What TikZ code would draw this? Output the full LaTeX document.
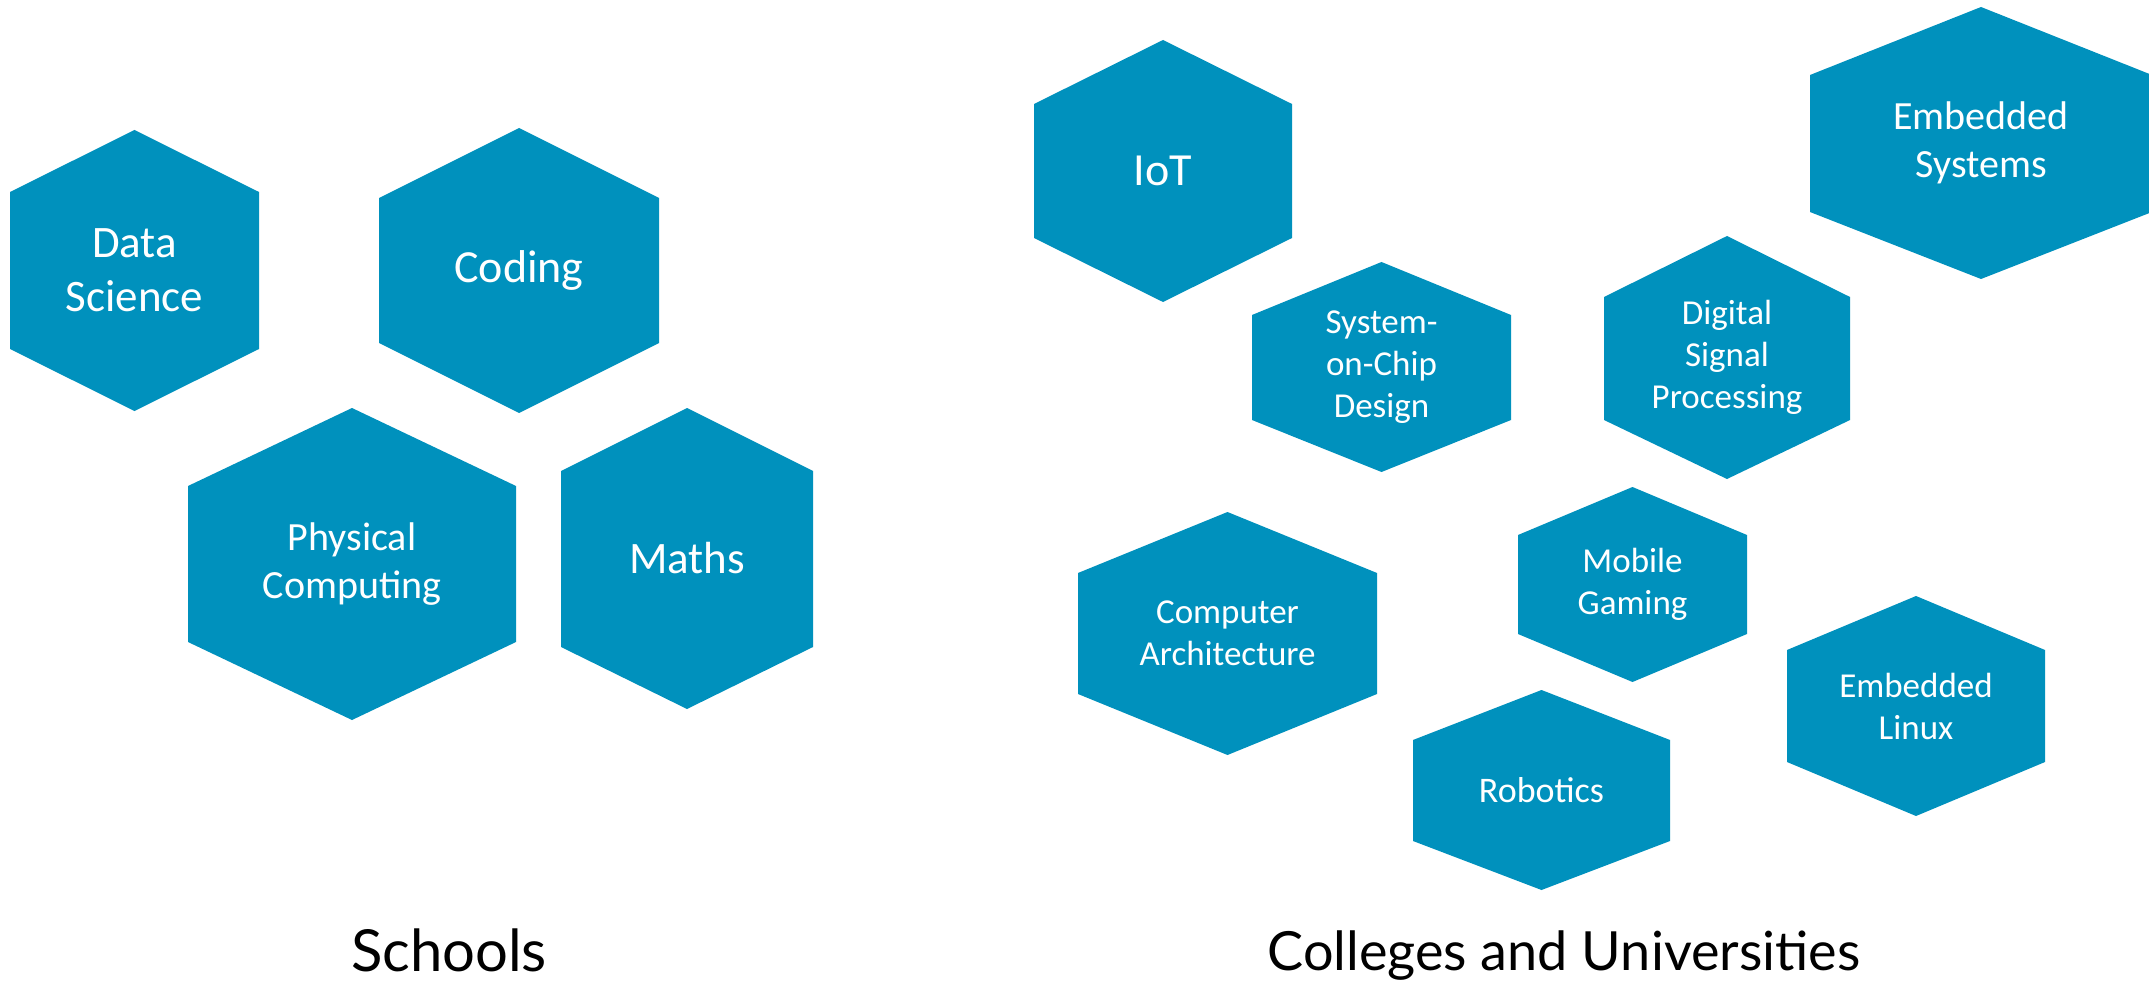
\documentclass[tikz,border=0pt]{standalone}
\usepackage{fontspec}
\setmainfont{Carlito}
\newfontfamily\grouplabelfont{Lato}
\definecolor{hexblue}{RGB}{0,145,189}
\tikzset{
  hexfill/.style={fill=hexblue},
  hextext/.style={text=white, align=center, inner sep=0pt},
  grouplabel/.style={text=black, inner sep=0pt, anchor=base}
}
% name, left, right, top, shoulder1, shoulder2, bottom, font size, text
\newcommand\hexcell[9]{%
  \fill[hexfill] ({(#2+#3)/2},#4) -- (#3,#5) -- (#3,#6) -- ({(#2+#3)/2},#7) -- (#2,#6) -- (#2,#5) -- cycle;
  \pgfmathsetmacro\hexlead{1.2*#8}%
  \node[hextext, font=\fontsize{#8}{\hexlead}\selectfont] (#1) at ({(#2+#3)/2},{(#4+#7)/2}) {#9};
}
\begin{document}
\begin{tikzpicture}[x=1pt, y=-1pt]
  \fill[white] (0,0) rectangle (2149,984);
  \useasboundingbox (0,0) rectangle (2149,984);
  % Schools
  \hexcell{datasci}{10}{259}{130}{192}{349}{411}{45}{Data\\Science}
  \hexcell{coding}{379}{659}{128}{198}{343}{413}{46}{Coding}
  \hexcell{physcomp}{188}{516}{408}{486}{642}{720}{40}{Physical\\Computing}
  \hexcell{maths}{561}{813}{408}{471}{647}{709}{45}{Maths}
  % Colleges and Universities
  \hexcell{iot}{1034}{1292}{40}{104}{238}{302}{46}{IoT}
  \hexcell{embsys}{1810}{2152}{7}{75}{212}{279}{40}{Embedded\\Systems}
  \hexcell{soc}{1252}{1511}{262}{315}{420}{472}{35}{System-\\on-Chip\\Design}
  \hexcell{dsp}{1604}{1850}{236}{297}{420}{479}{35}{Digital\\Signal\\Processing}
  \hexcell{comparch}{1078}{1377}{512}{573}{694}{755}{35}{Computer\\Architecture}
  \hexcell{mobile}{1518}{1747}{487}{535}{634}{682}{35}{Mobile\\Gaming}
  \hexcell{emblinux}{1787}{2045}{596}{650}{762}{816}{35}{Embedded\\Linux}
  \hexcell{robotics}{1413}{1670}{690}{740}{841}{890}{36}{Robotics}
  % group labels
  \node[grouplabel, font=\grouplabelfont\fontsize{58}{70}\selectfont] (schools) at (449,971) {Schools};
  \node[grouplabel, font=\grouplabelfont\fontsize{54}{65}\selectfont] (colleges) at (1564,970) {Colleges and Universities};
\end{tikzpicture}
\end{document}
